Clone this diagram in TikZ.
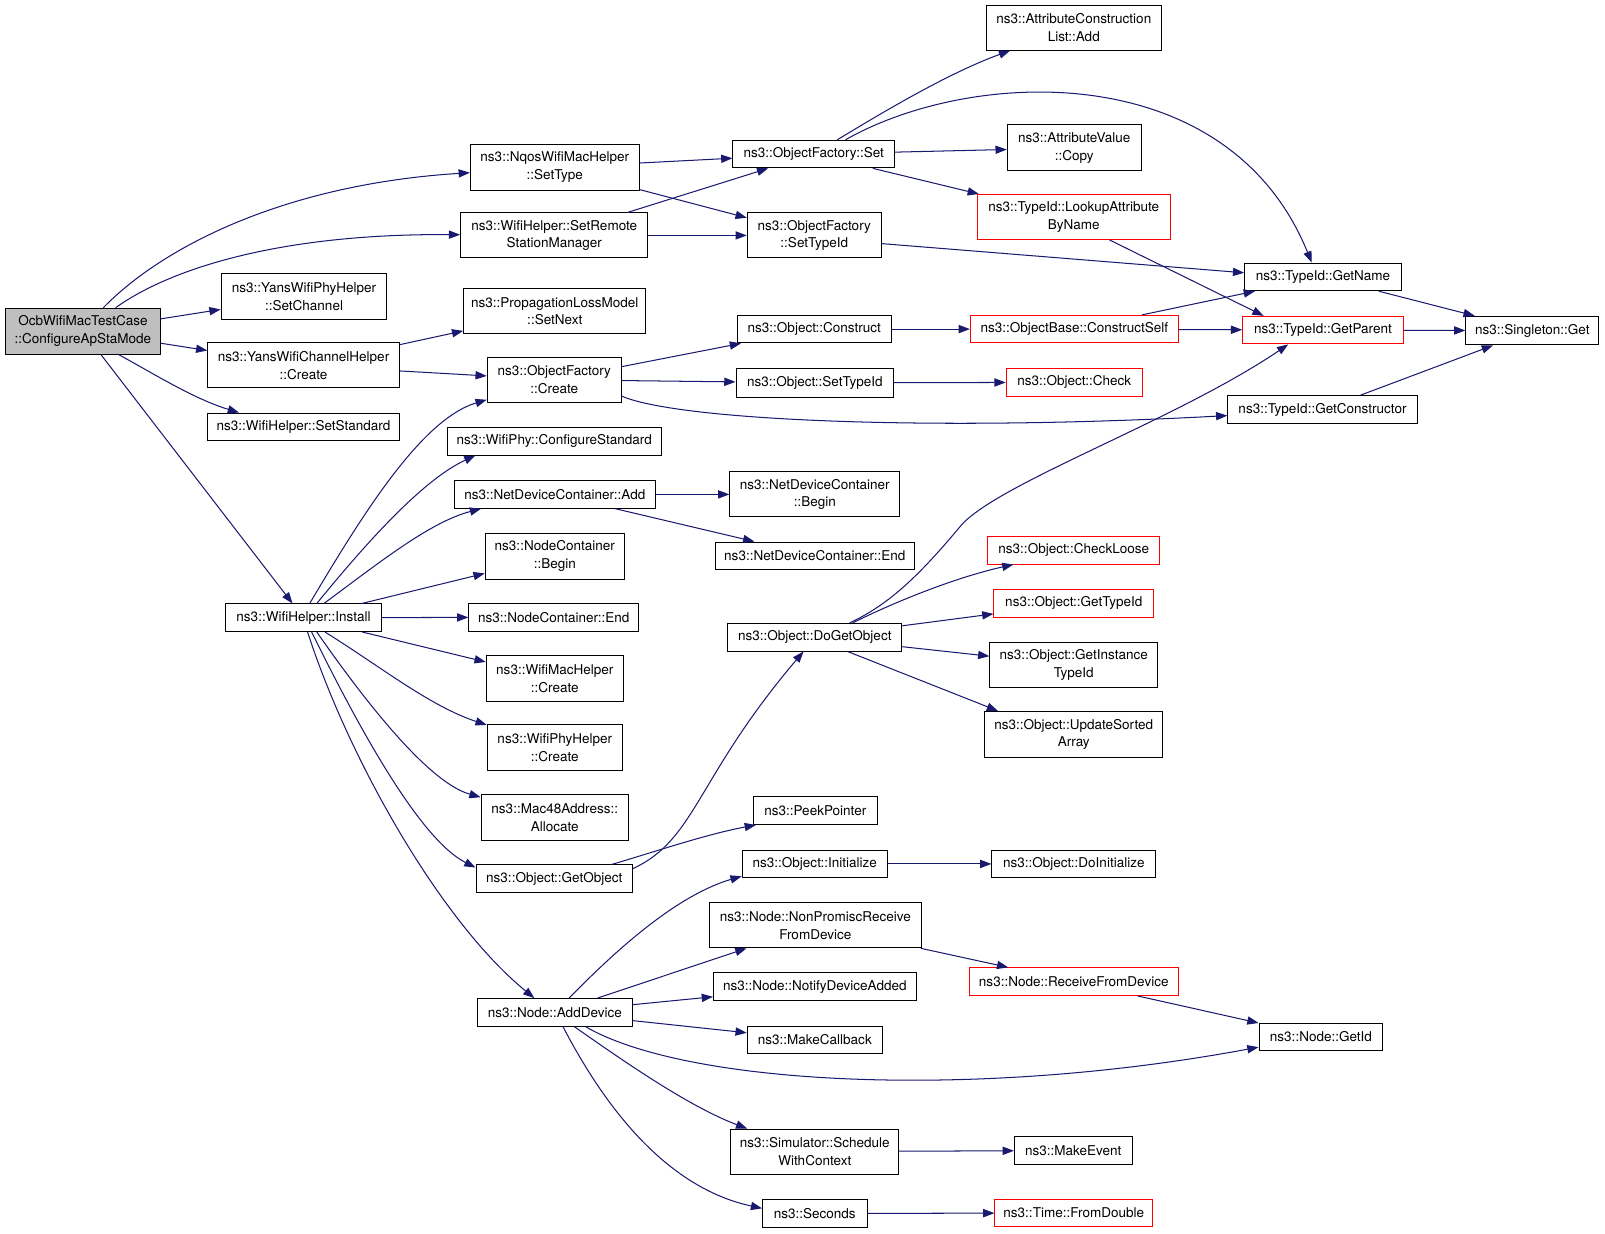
\documentclass[tikz,border=0pt]{standalone}
\usepackage{fontspec}
\setmainfont{TeX Gyre Heros}
\usetikzlibrary{arrows.meta}
\definecolor{edgeblue}{RGB}{25,25,112}
\definecolor{rootgray}{RGB}{191,191,191}
\definecolor{trunc}{RGB}{255,0,0}
\tikzset{
  nd/.style={draw=black, line width=0.9pt, inner sep=0pt, align=center, fill=white,
             font=\fontsize{13.2}{17.5}\selectfont},
  rd/.style={nd, draw=trunc},
  ed/.style={draw=edgeblue, line width=1pt, -{Triangle[length=11pt,width=8pt]}}
}
\begin{document}
\begin{tikzpicture}[x=1pt,y=-1pt]
\path[fill=white,use as bounding box] (0,0) rectangle (1568,1205);

% column 1
\node[nd, fill=rootgray, minimum width=152pt, minimum height=45pt] (A) at (81,323.5) {OcbWifiMacTestCase\\::ConfigureApStaMode};
% column 2
\node[nd, minimum width=165pt, minimum height=45pt] (B1) at (542,163.5) {ns3::NqosWifiMacHelper\\::SetType};
\node[nd, minimum width=183pt, minimum height=44pt] (B2) at (541.5,230) {ns3::WifiHelper::SetRemote\\StationManager};
\node[nd, minimum width=162pt, minimum height=45pt] (B3) at (297,289.5) {ns3::YansWifiPhyHelper\\::SetChannel};
\node[nd, minimum width=187pt, minimum height=44pt] (B4) at (296.5,357) {ns3::YansWifiChannelHelper\\::Create};
\node[nd, minimum width=188pt, minimum height=27pt] (B5) at (296.5,417) {ns3::WifiHelper::SetStandard};
\node[nd, minimum width=152pt, minimum height=27pt] (B6) at (296.5,603.5) {ns3::WifiHelper::Install};
% column 3
\node[nd, minimum width=178pt, minimum height=44pt] (C1) at (542,304) {ns3::PropagationLossModel\\::SetNext};
\node[nd, minimum width=131pt, minimum height=44pt] (C2) at (541.5,371) {ns3::ObjectFactory\\::Create};
\node[nd, minimum width=209pt, minimum height=27pt] (C3) at (541.5,431) {ns3::WifiPhy::ConfigureStandard};
\node[nd, minimum width=196pt, minimum height=27pt] (C4) at (542,483) {ns3::NetDeviceContainer::Add};
\node[nd, minimum width=136pt, minimum height=45pt] (C5) at (542,543.5) {ns3::NodeContainer\\::Begin};
\node[nd, minimum width=166pt, minimum height=27pt] (C6) at (541,603) {ns3::NodeContainer::End};
\node[nd, minimum width=134pt, minimum height=45pt] (C7) at (542,663) {ns3::WifiMacHelper\\::Create};
\node[nd, minimum width=132pt, minimum height=45pt] (C8) at (542,730) {ns3::WifiPhyHelper\\::Create};
\node[nd, minimum width=144pt, minimum height=45pt] (C9) at (542,799) {ns3::Mac48Address::\\Allocate};
\node[nd, minimum width=153pt, minimum height=27pt] (C10) at (541.5,858.5) {ns3::Object::GetObject};
\node[nd, minimum width=152pt, minimum height=27pt] (C11) at (542,989) {ns3::Node::AddDevice};
% column 4
\node[nd, minimum width=158pt, minimum height=27pt] (D1) at (795,150.5) {ns3::ObjectFactory::Set};
\node[nd, minimum width=131pt, minimum height=44pt] (D2) at (795.5,230) {ns3::ObjectFactory\\::SetTypeId};
\node[nd, minimum width=151pt, minimum height=27pt] (D3) at (795.5,321.5) {ns3::Object::Construct};
\node[nd, minimum width=154pt, minimum height=28pt] (D4) at (796,374) {ns3::Object::SetTypeId};
\node[nd, minimum width=166pt, minimum height=44pt] (D5) at (796,483) {ns3::NetDeviceContainer\\::Begin};
\node[nd, minimum width=195pt, minimum height=27pt] (D6) at (796,543) {ns3::NetDeviceContainer::End};
\node[nd, minimum width=170pt, minimum height=27pt] (D7) at (796,622.5) {ns3::Object::DoGetObject};
\node[nd, minimum width=121pt, minimum height=27pt] (D8) at (796.5,792) {ns3::PeekPointer};
\node[nd, minimum width=142pt, minimum height=27pt] (D9) at (796,844) {ns3::Object::Initialize};
\node[nd, minimum width=207pt, minimum height=44pt] (D10) at (796.5,904) {ns3::Node::NonPromiscReceive\\FromDevice};
\node[nd, minimum width=198pt, minimum height=27pt] (D11) at (796,964) {ns3::Node::NotifyDeviceAdded};
\node[nd, minimum width=132pt, minimum height=27pt] (D12) at (796,1016) {ns3::MakeCallback};
\node[nd, minimum width=164pt, minimum height=44pt] (D13) at (796,1125) {ns3::Simulator::Schedule\\WithContext};
\node[nd, minimum width=102pt, minimum height=27pt] (D14) at (796,1185.5) {ns3::Seconds};
% column 5
\node[nd, minimum width=171pt, minimum height=44pt] (E1) at (1049,27) {ns3::AttributeConstruction\\List::Add};
\node[nd, minimum width=131pt, minimum height=45pt] (E2) at (1049.5,144.5) {ns3::AttributeValue\\::Copy};
\node[rd, minimum width=188pt, minimum height=44pt] (E3) at (1049,212) {ns3::TypeId::LookupAttribute\\ByName};
\node[rd, minimum width=203pt, minimum height=27pt] (E4) at (1049.5,321.5) {ns3::ObjectBase::ConstructSelf};
\node[rd, minimum width=133pt, minimum height=27pt] (E5) at (1049.5,373.5) {ns3::Object::Check};
\node[rd, minimum width=168pt, minimum height=27pt] (E6) at (1049,537.5) {ns3::Object::CheckLoose};
\node[rd, minimum width=156pt, minimum height=27pt] (E7) at (1049,589.5) {ns3::Object::GetTypeId};
\node[nd, minimum width=164pt, minimum height=44pt] (E8) at (1049,650) {ns3::Object::GetInstance\\TypeId};
\node[nd, minimum width=174pt, minimum height=45pt] (E9) at (1049,717.5) {ns3::Object::UpdateSorted\\Array};
\node[nd, minimum width=160pt, minimum height=27pt] (E10) at (1049,844) {ns3::Object::DoInitialize};
\node[rd, minimum width=204pt, minimum height=27pt] (E11) at (1049,959) {ns3::Node::ReceiveFromDevice};
\node[nd, minimum width=115pt, minimum height=27pt] (E12) at (1048.5,1124) {ns3::MakeEvent};
\node[rd, minimum width=154pt, minimum height=27pt] (E13) at (1049,1185) {ns3::Time::FromDouble};
% column 6
\node[nd, minimum width=153pt, minimum height=27pt] (F1) at (1292.5,270.5) {ns3::TypeId::GetName};
\node[rd, minimum width=157pt, minimum height=27pt] (F2) at (1292.5,322.5) {ns3::TypeId::GetParent};
\node[nd, minimum width=185pt, minimum height=27pt] (F3) at (1292,400) {ns3::TypeId::GetConstructor};
\node[nd, minimum width=121pt, minimum height=27pt] (F4) at (1290.5,1013) {ns3::Node::GetId};
% column 7
\node[nd, minimum width=130pt, minimum height=28pt] (G1) at (1497,323) {ns3::Singleton::Get};

% edges from root
\draw[ed] ([xshift=20pt]A.north) .. controls (160,240) and (280,180) .. (B1);
\draw[ed] ([xshift=32pt]A.north) .. controls (170,260) and (280,228) .. (B2);
\draw[ed] (A) -- (B3);
\draw[ed] (A) -- (B4);
\draw[ed] ([xshift=35pt]A.south) .. controls (150,365) and (190,390) .. ([xshift=-63pt]B5.north);
\draw[ed] (A) -- (B6);
% object factory group
\draw[ed] (B1) -- (D1);
\draw[ed] (B1) -- (D2);
\draw[ed] (B2) -- (D1);
\draw[ed] (B2) -- (D2);
\draw[ed] (D1) .. controls (870,105) and (930,70) .. (E1);
\draw[ed] ([xshift=31pt]D1.north) .. controls (950,66) and (1200,56) .. ([xshift=-11pt]F1.north);
\draw[ed] (D1) -- (E2);
\draw[ed] (D1) -- (E3);
\draw[ed] ([yshift=-8pt]D2.east) -- ([yshift=4pt]F1.west);
\draw[ed] ([xshift=35pt]E3.south) -- ([xshift=-58pt]F2.north);
\draw[ed] (E4) -- (F1);
\draw[ed] (E4) -- (F2);
\draw[ed] (F1) -- (G1);
\draw[ed] (F2) -- (G1);
\draw[ed] (F3) -- (G1);
\draw[ed] (B4) -- (C1);
\draw[ed] (B4) -- (C2);
\draw[ed] (C2) -- (D3);
\draw[ed] (C2) -- (D4);
\draw[ed] ([yshift=-16pt]C2.east) .. controls (660,410) and (900,422) .. ([yshift=-6pt]F3.west);
\draw[ed] (D3) -- (E4);
\draw[ed] (D4) -- (E5);
% install group
\draw[ed] ([xshift=6pt]B6.north) .. controls (350,510) and (410,410) .. (C2);
\draw[ed] ([xshift=13pt]B6.north) .. controls (350,540) and (410,470) .. ([xshift=-77pt]C3.south);
\draw[ed] ([xshift=20pt]B6.north) .. controls (370,550) and (420,510) .. ([xshift=-72pt]C4.south);
\draw[ed] (B6) -- (C5);
\draw[ed] (B6) -- (C6);
\draw[ed] (B6) -- (C7);
\draw[ed] ([xshift=21pt]B6.south) .. controls (370,650) and (420,690) .. (C8);
\draw[ed] ([xshift=13pt]B6.south) .. controls (360,690) and (420,765) .. (C9);
\draw[ed] ([xshift=8pt]B6.south) .. controls (350,710) and (410,820) .. ([yshift=-3pt]C10.north west);
\draw[ed] ([xshift=4pt]B6.south) .. controls (340,740) and (430,900) .. ([xshift=-20pt]C11.north);
\draw[ed] (C4) -- (D5);
\draw[ed] (C4) -- (D6);
\draw[ed] ([xshift=56pt]C10.north) .. controls (640,832) and (690,815) .. ([xshift=-58pt]D8.south);
\draw[ed] ([yshift=10pt]C10.east) .. controls (680,820) and (680,760) .. ([xshift=-11pt]D7.south);
\draw[ed] ([xshift=34pt]D7.north) .. controls (870,590) and (900,560) .. (940,512)
          .. controls (980,470) and (1150,410) .. ([xshift=-34pt]F2.south);
\draw[ed] ([xshift=37pt]D7.north) .. controls (870,590) and (930,565) .. ([xshift=-59pt]E6.south);
\draw[ed] (D7) -- (E7);
\draw[ed] (D7) -- (E8);
\draw[ed] ([xshift=32pt]D7.south) -- ([xshift=-74pt]E9.north);
% add device group
\draw[ed] ([xshift=14pt]C11.north) .. controls (600,930) and (660,875) .. ([yshift=-12pt]D9.west);
\draw[ed] (C11) -- (D10);
\draw[ed] (C11) -- (D11);
\draw[ed] (C11) -- (D12);
\draw[ed] ([xshift=30pt]C11.south) .. controls (670,1060) and (950,1075) .. ([yshift=-10pt]F4.west);
\draw[ed] ([xshift=19pt]C11.south) .. controls (600,1030) and (670,1080) .. ([xshift=-66pt]D13.north);
\draw[ed] ([xshift=8pt]C11.south) .. controls (590,1080) and (650,1160) .. ([yshift=5pt]D14.west);
\draw[ed] (D9) -- (E10);
\draw[ed] (D10) -- (E11);
\draw[ed] (E11) -- (F4);
\draw[ed] (D13) -- (E12);
\draw[ed] (D14) -- (E13);
\end{tikzpicture}
\end{document}
